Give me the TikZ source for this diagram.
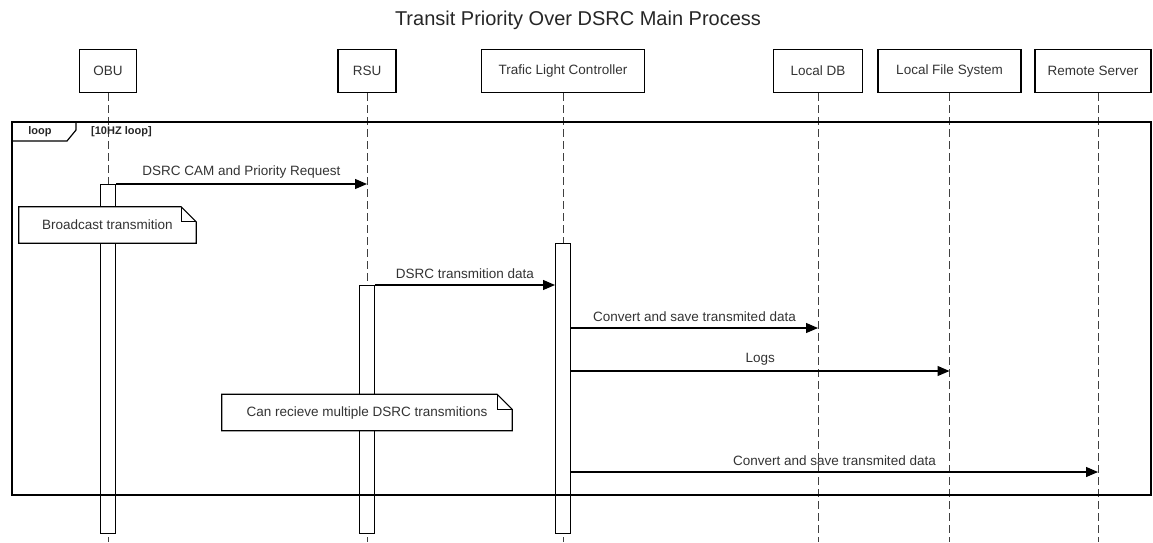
\documentclass[tikz,border=0pt]{standalone}
\usepackage{fontspec}
\setmainfont{Liberation Sans}
\usetikzlibrary{arrows.meta}

\tikzset{
  party/.style={draw, line width=1.6pt, minimum height=43pt, inner sep=0pt, text=black!80, font=\fontsize{13.5}{16}\selectfont},
  lifeline/.style={draw=black!75, line width=1pt, dash pattern=on 8pt off 4pt},
  actbox/.style={draw, line width=1pt, fill=white, minimum width=15pt, inner sep=0pt},
  msg/.style={line width=1.2pt, -{Triangle[length=12pt,width=10pt]}},
  msglabel/.style={midway, above=2pt, text=black!80, font=\fontsize{13.5}{16}\selectfont},
  notebox/.style={fill=white, minimum height=36pt, inner sep=0pt, text=black!80, font=\fontsize{13.5}{16}\selectfont},
  noteline/.style={line width=1.2pt},
}

\begin{document}
\begin{tikzpicture}[x=1pt, y=-1pt]
    \useasboundingbox (0,0) rectangle (1153,542);

    \node[text=black!85, font=\fontsize{20}{24}\selectfont] (title) at (578,20) {Transit Priority Over DSRC Main Process};

    % participants
    \node[party, minimum width=57pt]  (obu) at (108,71) {OBU};
    \node[party, minimum width=58pt]  (rsu) at (367,71) {RSU};
    \node[party, minimum width=163pt] (tlc) at (563,71) {Trafic Light Controller};
    \node[party, minimum width=89pt]  (db)  at (818,71) {Local DB};
    \node[party, minimum width=143pt] (lfs) at (949.5,71) {Local File System};
    \node[party, minimum width=116pt] (srv) at (1093,71) {Remote Server};

    % lifelines
    \draw[lifeline] (obu.south) -- (obu.south |- 0,542);
    \draw[lifeline] (rsu.south) -- (rsu.south |- 0,542);
    \draw[lifeline] (tlc.south) -- (tlc.south |- 0,542);
    \draw[lifeline] (db.south) -- (db.south |- 0,542);
    \draw[lifeline] (lfs.south) -- (lfs.south |- 0,542);
    \draw[lifeline] ([xshift=5pt]srv.south) -- ([xshift=5pt]srv.south |- 0,542);

    % activations
    \node[actbox, anchor=north, minimum height=349pt] (obuAct) at (108,184) {};
    \node[actbox, anchor=north, minimum height=248pt] (rsuAct) at (367,285) {};
    \node[actbox, anchor=north, minimum height=290pt] (tlcAct) at (563,243) {};

    % loop frame
    \draw[line width=1.8pt] (12,122) rectangle (1151,495);
    \draw[line width=1.2pt] (12,141) -- (67,141) -- (76,130) -- (76,122);
    \node[text=black!85, font=\fontsize{11}{13}\selectfont\bfseries] (looptag) at (40,132) {loop};
    \node[text=black!85, font=\fontsize{11}{13}\selectfont\bfseries, anchor=west, inner sep=0pt] (guard) at (91,132) {[10HZ loop]};

    % messages
    \coordinate (rsuM1) at (rsu.south |- 0,184);
    \coordinate (dbM3)  at (db.south |- 0,328);
    \coordinate (lfsM4) at (lfs.south |- 0,371);
    \coordinate (srvM5) at ([xshift=5pt]srv.south |- 0,472);

    \draw[msg] (obuAct.north east) -- node[msglabel] {DSRC CAM and Priority Request} (rsuM1);
    \draw[msg] (rsuAct.north east) -- node[msglabel] {DSRC transmition data} (tlcAct.west |- rsuAct.north);
    \draw[msg] (tlcAct.east |- dbM3) -- node[msglabel] {Convert and save transmited data} (dbM3);
    \draw[msg] (tlcAct.east |- lfsM4) -- node[msglabel] {Logs} (lfsM4);
    \draw[msg] (tlcAct.east |- srvM5) -- node[msglabel] {Convert and save transmited data} (srvM5);

    % notes
    \node[notebox, minimum width=177pt] (bcast) at (107.5,225) {Broadcast transmition};
    \draw[noteline] (bcast.north west) -- ([xshift=-15pt]bcast.north east) -- ([yshift=-15pt]bcast.north east) -- (bcast.south east) -- (bcast.south west) -- cycle;
    \draw[noteline] ([xshift=-15pt]bcast.north east) -- ([xshift=-15pt,yshift=-15pt]bcast.north east) -- ([yshift=-15pt]bcast.north east);

    \node[notebox, minimum width=290pt] (multi) at (367,412.5) {Can recieve multiple DSRC transmitions};
    \draw[noteline] (multi.north west) -- ([xshift=-15pt]multi.north east) -- ([yshift=-15pt]multi.north east) -- (multi.south east) -- (multi.south west) -- cycle;
    \draw[noteline] ([xshift=-15pt]multi.north east) -- ([xshift=-15pt,yshift=-15pt]multi.north east) -- ([yshift=-15pt]multi.north east);
\end{tikzpicture}
\end{document}
